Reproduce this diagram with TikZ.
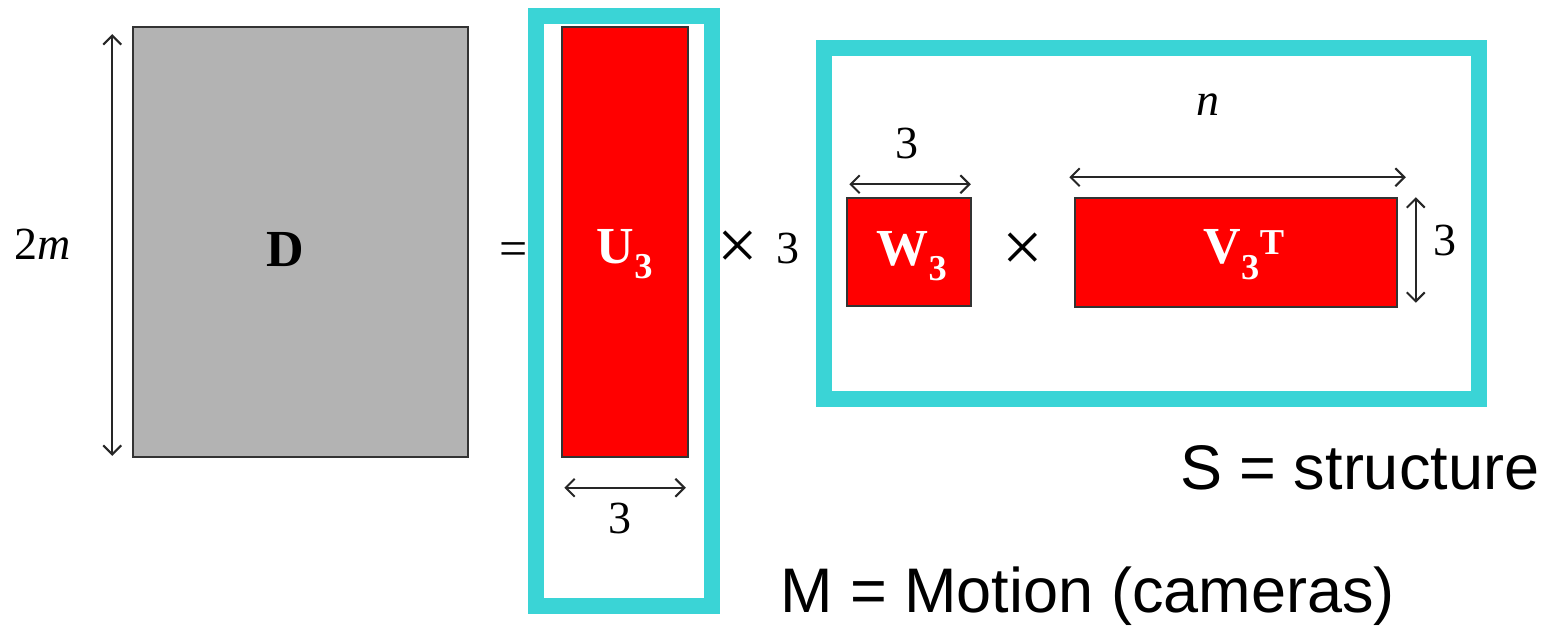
\documentclass[tikz,border=0pt]{standalone}
\usepackage{fontspec}
\setmainfont{Liberation Serif}
\setsansfont{Liberation Sans}
\usepackage{xcolor}
\usetikzlibrary{positioning, calc, arrows.meta}

\definecolor{matgray}{RGB}{179,179,179}
\definecolor{matred}{RGB}{255,0,0}
\definecolor{boxcyan}{RGB}{58,212,214}

\begin{document}
\begin{tikzpicture}[
    x=1pt, y=-1pt,
    every node/.style={font=\fontsize{46}{50}\selectfont},
    matrixbox/.style={
        rectangle,
        draw=black!80,
        line width=1.5pt,
        inner sep=0pt
    },
    graymat/.style={matrixbox, fill=matgray},
    redmat/.style={matrixbox, fill=matred},
    matlabel/.style={inner sep=0pt, font=\fontsize{52}{56}\selectfont\bfseries},
    groupbox/.style={
        rectangle,
        draw=boxcyan,
        line width=16pt,
        inner sep=0pt
    },
    dim/.style={
        {Straight Barb[length=9pt,width=18pt]}-{Straight Barb[length=9pt,width=18pt]},
        line width=2pt,
        black!85
    },
    lbl/.style={inner sep=0pt},
    bigtext/.style={font=\sffamily\fontsize{63}{68}\selectfont, inner sep=0pt, anchor=west}
]

\useasboundingbox (0,0) rectangle (1550,628);

% Matrices
\node[graymat, minimum width=335pt, minimum height=430pt] (D) at (300.5,242) {};
\node[matlabel] (Dlabel) at ([xshift=-15pt,yshift=-8pt]D.center) {D};

\node[redmat, minimum width=126pt, minimum height=430pt] (U) at (625,242) {};
\node[matlabel, text=white] (Ulabel) at ([yshift=-12pt]U.center) {U\textsubscript{3}};

\node[redmat, minimum width=124pt, minimum height=108pt] (W) at (909,252) {};
\node[matlabel, text=white] (Wlabel) at ([xshift=3pt,yshift=-4pt]W.center) {W\textsubscript{3}};

\node[redmat, minimum width=322pt, minimum height=109pt] (V) at (1236,252.5) {};
\node[matlabel, text=white] (Vlabel) at ([xshift=8pt,yshift=-2pt]V.center) {V\textsubscript{3}\textsuperscript{T}};

% Operators
\node[lbl, font=\fontsize{50}{54}\selectfont] (eq) at (514,254) {=};
\node[lbl, font=\fontsize{72}{76}\selectfont] (times1) at (738,250) {×};
\node[lbl, font=\fontsize{72}{76}\selectfont] (times2) at (1023,252) {×};

% Dimensions
\draw[dim] ([xshift=-20pt,yshift=-8pt]D.north west) -- ([xshift=-20pt,yshift=2pt]D.south west);
\node[lbl] (twom) at (43,244) {2\textit{m}};

\draw[dim] ([xshift=3pt,yshift=-30pt]U.south west) -- ([xshift=-3pt,yshift=-30pt]U.south east);
\node[lbl] (threeU) at (620,518) {3};

\node[lbl] (threeM) at (788,248) {3};

\draw[dim] ([xshift=3pt,yshift=13pt]W.north west) -- ([xshift=-1pt,yshift=13pt]W.north east);
\node[lbl] (threeW) at (907,143) {3};

\draw[dim] ([xshift=-5pt,yshift=20pt]V.north west) -- ([xshift=8pt,yshift=20pt]V.north east);
\node[lbl] (nV) at (1208,105) {\textit{n}};

\draw[dim] ([xshift=18pt]V.north east) -- ([xshift=18pt,yshift=5pt]V.south east);
\node[lbl] (threeV) at (1445,240) {3};

% Groups
\node[groupbox, minimum width=176pt, minimum height=590pt] (Mbox) at (624,311) {};
\node[groupbox, minimum width=655pt, minimum height=351pt] (Sbox) at (1151.5,223.5) {};

\node[bigtext] (Slabel) at (1180,468) {S = structure};
\node[bigtext] (Mlabel) at (780,596) {M = Motion (cameras)};

\end{tikzpicture}
\end{document}
